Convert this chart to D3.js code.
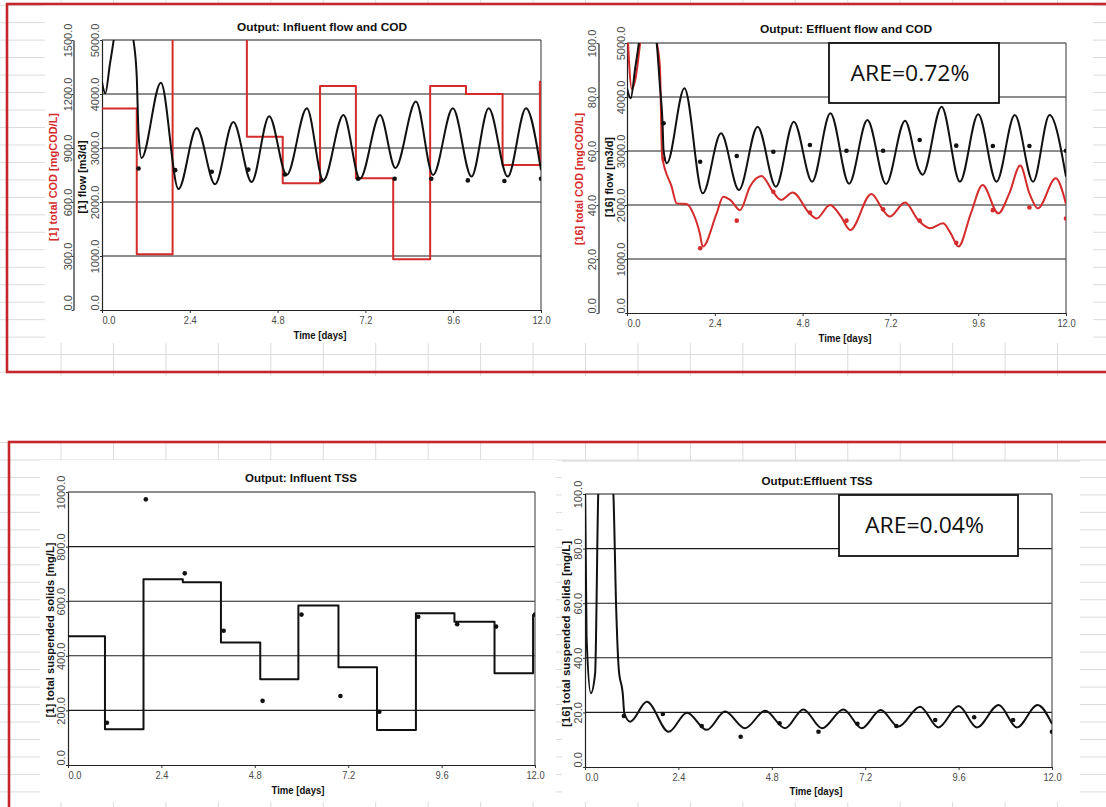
<!DOCTYPE html>
<html>
<head>
<meta charset="utf-8">
<script src="https://cdn.jsdelivr.net/npm/d3@7"></script>
<style>
  body { margin: 0; background: #fff; }
  svg { display: block; }
</style>
</head>
<body>
<script>
// ---------------- data ----------------
const dayTicks = [0, 2.4, 4.8, 7.2, 9.6, 12];
const flowTicks = [0, 1000, 2000, 3000, 4000, 5000];
const codInfTicks = [0, 300, 600, 900, 1200, 1500];
const codEffTicks = [0, 20, 40, 60, 80, 100];
const tssInfTicks = [0, 200, 400, 600, 800, 1000];
const tssEffTicks = [0, 20, 40, 60, 80, 100];
const sampleDays = [1, 2, 3, 4, 5, 6, 7, 8, 9, 10, 11, 12];

// influent flow, simulated [m3/d]
const infFlowT = [0, 0.09, 0.22, 0.6, 0.86, 0.95, 1.0, 1.08, 1.61, 2.09, 2.59, 3.09, 3.59, 4.09, 4.57, 5.05,
  5.6, 6.05, 6.6, 7.05, 7.6, 8.02, 8.58, 9.05, 9.59, 10.1, 10.57, 11.09, 11.59, 12];
const infFlowV = [4220, 4012, 4570, 5800, 5000, 4320, 3250, 2815, 4210, 2240, 3370, 2330, 3480, 2370, 3590, 2500,
  3735, 2400, 3610, 2430, 3610, 2630, 3860, 2500, 3735, 2470, 3735, 2470, 3735, 2590];
// influent flow, measured
const infFlowObs = [2620, 2590, 2560, 2600, 2510, 2400, 2430, 2430, 2430, 2400, 2390, 2430];

// influent total COD, stepwise [mgCOD/L]
const infCodT = [0, 0.95, 1.93, 2.95, 3.96, 4.94, 5.96, 6.94, 7.96, 8.97, 9.95, 10.95, 11.97, 12];
const infCodV = [1120, 310, 1750, 1700, 963, 704, 1244, 732, 282, 1244, 1200, 806, 1268, 1268];

// effluent flow, simulated
const effFlowT = [0, 0.1, 0.23, 0.55, 0.81, 0.9, 0.97, 1.0, 1.09, 1.57, 2.07, 2.57, 3.06, 3.57, 4.07, 4.56, 5.06,
  5.56, 6.07, 6.57, 7.08, 7.6, 7.98, 8.08, 8.6, 9.1, 9.6, 10.1, 10.6, 11.1, 11.55, 12];
const effFlowV = [4161, 3976, 4561, 5700, 5000, 4200, 3550, 3000, 2772, 4161, 2216, 3327, 2278, 3450, 2339, 3543, 2432,
  3698, 2395, 3574, 2389, 3561, 2650, 2560, 3820, 2432, 3680, 2432, 3667, 2432, 3667, 2525];
const effFlowObs = [3513, 2802, 2907, 2987, 3111, 3006, 3006, 3204, 3099, 3093, 3093, 3006];

// effluent total COD, simulated
const effCodT = [0, 0.06, 0.13, 0.22, 0.36, 0.6, 0.82, 0.9, 0.96, 1.22, 1.36, 1.63, 1.81, 1.99, 2.07, 2.45, 2.63, 2.82,
  3.09, 3.36, 3.68, 3.99, 4.21, 4.53, 4.99, 5.18, 5.55, 5.85, 6.1, 6.68, 7.0, 7.18, 7.6, 7.96, 8.28, 8.64, 8.85, 9.06,
  9.4, 9.72, 10.15, 10.45, 10.75, 11.0, 11.23, 11.72, 12];
const effCodV = [110, 92, 83, 86, 100, 130, 100, 91, 58, 46.8, 40.6, 40.4, 36.9, 29.5, 24.6, 36.9, 43.1, 41.9,
  38.1, 46.8, 50.7, 44.9, 41.9, 44.6, 36.9, 35, 40, 35.7, 30.7, 44.1, 38.1, 35.7, 40.9, 34.4, 31.4, 33.2, 29.5, 24.6,
  36.9, 47.4, 36.9, 44.3, 54.6, 44.3, 38.8, 49.9, 40.4];
const effCodObs = [57, 24, 34.2, 44.9, 37.2, 34.2, 38.4, 34.2, 26, 38.1, 39.1, 35];

// influent TSS, stepwise [mg/L]
const infTssT = [0, 0.95, 1.94, 2.95, 3.93, 4.94, 5.92, 6.95, 7.94, 8.94, 9.93, 10.96, 11.95, 12];
const infTssV = [472, 131, 680, 669, 449, 314, 584, 358, 128, 556, 525, 336, 549, 549];
const infTssObs = [155, 973, 702, 492, 235, 551, 253, 195, 543, 516, 507, 551];

// effluent TSS, simulated
const effTssT = [0, 0.04, 0.15, 0.26, 0.34, 0.5, 0.73, 0.8, 0.87, 0.97, 1.01, 1.16, 1.59, 2.15, 2.62, 3.13, 3.6, 4.11,
  4.63, 5.14, 5.61, 6.09, 6.64, 7.11, 7.6, 8.05, 8.61, 9.08, 9.6, 10.07, 10.63, 11.1, 11.63, 12];
const effTssV = [105, 47.7, 27, 34.3, 100, 140, 100, 58.7, 35.5, 27, 19.7, 16.6, 23.9, 12.9, 19.9, 13.6, 20.3, 14.2,
  20.6, 14.2, 21.1, 14.2, 21.1, 14.2, 20.9, 14.8, 22.1, 14.5, 22.3, 14.5, 22.7, 14.5, 22.7, 15.8];
const effTssObs = [18.7, 19.4, 15, 11.1, 16, 12.9, 15.8, 15, 17.2, 18.2, 17.2, 12.9];

// ---------------- drawing ----------------
const W = 1106, H = 807;
const FONT = "'Liberation Sans', Arial, sans-serif";
const RED = "#d42b2b";
const FRAME_RED = "#c4262c";

const svg = d3.select("body").append("svg").attr("width", W).attr("height", H);
const defs = svg.append("defs");

// spreadsheet cell grid behind the charts
function sheet(y0, y1, rowStart) {
  const g = svg.append("g").attr("stroke", "#dcdcdc").attr("stroke-width", 1);
  d3.range(61, W, 52.45).forEach(x =>
    g.append("line").attr("x1", x).attr("x2", x).attr("y1", y0).attr("y2", y1));
  d3.range(rowStart, y1, 17.47).forEach(y =>
    g.append("line").attr("x1", 0).attr("x2", W).attr("y1", y).attr("y2", y));
}
sheet(0, 376, 5.2);
sheet(442, H, 442.5);

// chart canvases
const canvases = [
  { x: 45, y: 5, w: 515, h: 338 },
  { x: 560, y: 5, w: 533, h: 338 },
  { x: 40, y: 460, w: 516, h: 342 },
  { x: 562, y: 461, w: 518, h: 341 }
];
svg.append("g").selectAll("rect").data(canvases).join("rect")
  .attr("x", d => d.x).attr("y", d => d.y).attr("width", d => d.w).attr("height", d => d.h)
  .attr("fill", "#fff");
svg.append("line").attr("x1", 562).attr("x2", 1080).attr("y1", 461).attr("y2", 461)
  .attr("stroke", "#d6d6d6");

function hText(g, str, cx, base, len, opts = {}) {
  return g.append("text")
    .attr("x", cx).attr("y", base)
    .attr("text-anchor", "middle")
    .attr("font-family", FONT)
    .attr("font-size", opts.size || 11)
    .attr("font-weight", opts.weight || "bold")
    .attr("fill", opts.fill || "#111")
    .attr("textLength", len).attr("lengthAdjust", "spacingAndGlyphs")
    .text(str);
}

function vText(g, str, base, cy, len, fill) {
  return g.append("text")
    .attr("transform", `translate(${base},${cy}) rotate(-90)`)
    .attr("text-anchor", "middle")
    .attr("font-family", FONT).attr("font-size", 11).attr("font-weight", "bold")
    .attr("fill", fill)
    .attr("textLength", len).attr("lengthAdjust", "spacingAndGlyphs")
    .text(str);
}

function yAxis(g, scale, ticks, xPos, off, top, bottom) {
  const ax = g.append("g").attr("transform", `translate(${xPos},0)`)
    .call(d3.axisLeft(scale).tickValues(ticks).tickSize(2).tickSizeOuter(0).tickFormat(d3.format(".1f")));
  ax.select(".domain").attr("stroke", "#222").attr("stroke-width", 1.2);
  ax.selectAll(".tick line").attr("stroke", "#333");
  ax.selectAll("text")
    .attr("x", 0).attr("dy", 0)
    .attr("text-anchor", "middle")
    .attr("transform", `translate(${-off},0) rotate(-90)`)
    .attr("font-family", FONT).attr("font-size", 11).attr("fill", "#4a4a4a");
  ax.selectAll(".tick").filter(d => d === 0).select("text").attr("text-anchor", "start");
  return ax;
}

let clipN = 0;
function drawPanel(p) {
  const g = svg.append("g");
  const x = d3.scaleLinear().domain([0, 12]).range([p.left, p.right]);
  const y = d3.scaleLinear().domain([0, p.yMax]).range([p.bottom, p.top]);
  const id = "plotclip" + (clipN++);
  defs.append("clipPath").attr("id", id).append("rect")
    .attr("x", p.left).attr("y", p.top).attr("width", p.right - p.left).attr("height", p.bottom - p.top);

  // horizontal grid lines (the top one closes the frame)
  g.append("g").selectAll("line").data(p.yTicks.filter(v => v > 0)).join("line")
    .attr("x1", p.left).attr("x2", p.right)
    .attr("y1", d => y(d)).attr("y2", d => y(d))
    .attr("stroke", "#1c1c1c").attr("stroke-width", 1.1);
  g.append("line").attr("x1", p.right).attr("x2", p.right).attr("y1", p.top).attr("y2", p.bottom)
    .attr("stroke", "#555").attr("stroke-width", 1.2);

  // time axis
  const ax = g.append("g").attr("transform", `translate(0,${p.bottom})`)
    .call(d3.axisBottom(x).tickValues(dayTicks).tickSize(3).tickSizeOuter(0).tickFormat(d3.format(".1f")));
  ax.select(".domain").attr("stroke", "#222").attr("stroke-width", 1.2);
  ax.selectAll(".tick line").attr("stroke", "#333");
  ax.selectAll("text").attr("y", 0).attr("dy", 0)
    .attr("transform", "translate(0,14) scale(0.85,1)")
    .attr("font-family", FONT).attr("font-size", 11).attr("fill", "#4a4a4a");
  ax.selectAll(".tick").filter(d => d === 0).select("text").attr("text-anchor", "start");

  // value axes
  yAxis(g, y, p.yTicks, p.left, p.yOff);
  let y2 = null;
  if (p.y2Max) {
    y2 = d3.scaleLinear().domain([0, p.y2Max]).range([p.bottom, p.top]);
    yAxis(g, y2, p.y2Ticks, p.y2X, p.y2Off);
  }

  // titles
  hText(g, p.title, p.titleX, p.titleY, p.titleLen);
  hText(g, "Time [days]", p.timeX, p.timeY, 53);
  vText(g, p.yTitle, p.yTitleX, p.yTitleC, p.yTitleLen, "#111");
  if (p.y2Title) vText(g, p.y2Title, p.y2TitleX, p.y2TitleC, p.y2TitleLen, RED);

  // series
  const plot = g.append("g").attr("clip-path", `url(#${id})`);
  p.series.forEach(s => {
    const sc = s.axis === 2 ? y2 : y;
    const line = d3.line().x(d => x(d[0])).y(d => sc(d[1]))
      .curve(s.step ? d3.curveStepAfter : d3.curveMonotoneX);
    plot.append("path").datum(d3.zip(s.t, s.v))
      .attr("d", line).attr("fill", "none")
      .attr("stroke", s.color).attr("stroke-width", 2).attr("stroke-linejoin", "round");
    if (s.obs) {
      plot.append("g").selectAll("circle").data(d3.zip(sampleDays, s.obs)).join("circle")
        .attr("cx", d => x(d[0])).attr("cy", d => sc(d[1])).attr("r", 2.3)
        .attr("fill", s.color);
    }
  });

  if (p.note) {
    const b = p.note;
    g.append("rect").attr("x", b.x).attr("y", b.y).attr("width", b.w).attr("height", b.h)
      .attr("fill", "#fff").attr("stroke", "#111").attr("stroke-width", 1.8);
    g.append("text").attr("x", b.x + b.w / 2 - 4).attr("y", b.y + b.h / 2 + 7.5)
      .attr("text-anchor", "middle")
      .attr("font-family", "'Open Sans', 'Noto Sans', sans-serif").attr("font-size", 21)
      .attr("fill", "#111")
      .attr("textLength", 119).attr("lengthAdjust", "spacingAndGlyphs")
      .text(b.text);
  }
}

// Output: Influent flow and COD
drawPanel({
  left: 102, right: 541, top: 40, bottom: 310,
  yMax: 5000, yTicks: flowTicks, yOff: 3,
  y2Max: 1500, y2Ticks: codInfTicks, y2X: 73.5, y2Off: 2,
  title: "Output: Influent flow and COD", titleX: 322, titleY: 31, titleLen: 170,
  timeX: 320, timeY: 339,
  yTitle: "[1] flow [m3/d]", yTitleX: 86, yTitleC: 177, yTitleLen: 73,
  y2Title: "[1] total COD [mgCOD/L]", y2TitleX: 57, y2TitleC: 177, y2TitleLen: 128,
  series: [
    { t: infCodT, v: infCodV, axis: 2, step: true, color: RED },
    { t: infFlowT, v: infFlowV, color: "#111", obs: infFlowObs }
  ]
});

// Output: Effluent flow and COD
drawPanel({
  left: 627, right: 1066, top: 43, bottom: 313,
  yMax: 5000, yTicks: flowTicks, yOff: 2,
  y2Max: 100, y2Ticks: codEffTicks, y2X: 598.5, y2Off: 3,
  title: "Output: Effluent flow and COD", titleX: 846, titleY: 33, titleLen: 172,
  timeX: 845, timeY: 342,
  yTitle: "[16] flow [m3/d]", yTitleX: 612.5, yTitleC: 177, yTitleLen: 80,
  y2Title: "[16] total COD [mgCOD/L]", y2TitleX: 583, y2TitleC: 179, y2TitleLen: 132,
  series: [
    { t: effCodT, v: effCodV, axis: 2, color: RED, obs: effCodObs },
    { t: effFlowT, v: effFlowV, color: "#111", obs: effFlowObs }
  ],
  note: { x: 829, y: 43, w: 170, h: 60, text: "ARE=0.72%" }
});

// Output: Influent TSS
drawPanel({
  left: 68, right: 535, top: 492, bottom: 765,
  yMax: 1000, yTicks: tssInfTicks, yOff: 3,
  title: "Output: Influent TSS", titleX: 301, titleY: 482, titleLen: 112,
  timeX: 298, timeY: 794,
  yTitle: "[1] total suspended solids [mg/L]", yTitleX: 53.5, yTitleC: 630, yTitleLen: 175,
  series: [
    { t: infTssT, v: infTssV, step: true, color: "#111", obs: infTssObs }
  ]
});

// Output:Effluent TSS
drawPanel({
  left: 585, right: 1052, top: 494, bottom: 767,
  yMax: 100, yTicks: tssEffTicks, yOff: 3,
  title: "Output:Effluent TSS", titleX: 817, titleY: 485, titleLen: 111,
  timeX: 816, timeY: 795,
  yTitle: "[16] total suspended solids [mg/L]", yTitleX: 570, yTitleC: 634, yTitleLen: 186,
  series: [
    { t: effTssT, v: effTssV, color: "#111", obs: effTssObs }
  ],
  note: { x: 839, y: 495, w: 179, h: 61, text: "ARE=0.04%" }
});

// red frames around each pair of charts
svg.append("rect").attr("x", 7).attr("y", 4).attr("width", W + 20).attr("height", 368)
  .attr("fill", "none").attr("stroke", FRAME_RED).attr("stroke-width", 2.6);
svg.append("rect").attr("x", 9).attr("y", 442).attr("width", W + 20).attr("height", 400)
  .attr("fill", "none").attr("stroke", FRAME_RED).attr("stroke-width", 2.6);
</script>
</body>
</html>
